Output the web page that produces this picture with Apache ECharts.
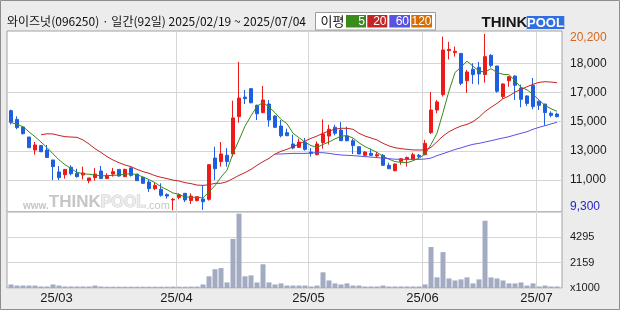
<!DOCTYPE html>
<html><head><meta charset="utf-8">
<script src="https://cdn.jsdelivr.net/npm/echarts@6/dist/echarts.min.js"></script>
<style>html,body{margin:0;padding:0;background:#ececec}#c{width:620px;height:310px}</style>
</head><body><div id="c"></div><script>
const stockName = '와이즈넛';
const stockCode = '096250';
const periodLabel = '일간';
const maLegendTitle = '이평';
const maPeriods = ['5', '20', '60', '120'];

const dates = [
 '2025/02/19','2025/02/20','2025/02/21','2025/02/24','2025/02/25','2025/02/26','2025/02/27','2025/02/28',
 '2025/03/04','2025/03/05','2025/03/06','2025/03/07','2025/03/10','2025/03/11','2025/03/12','2025/03/13','2025/03/14',
 '2025/03/17','2025/03/18','2025/03/19','2025/03/20','2025/03/21','2025/03/24','2025/03/25','2025/03/26','2025/03/27','2025/03/28','2025/03/31',
 '2025/04/01','2025/04/02','2025/04/03','2025/04/04','2025/04/07','2025/04/08','2025/04/09','2025/04/10','2025/04/11',
 '2025/04/14','2025/04/15','2025/04/16','2025/04/17','2025/04/18','2025/04/21','2025/04/22','2025/04/23','2025/04/24','2025/04/25',
 '2025/04/28','2025/04/29','2025/04/30',
 '2025/05/02','2025/05/07','2025/05/08','2025/05/09','2025/05/12','2025/05/13','2025/05/14','2025/05/15','2025/05/16',
 '2025/05/19','2025/05/20','2025/05/21','2025/05/22','2025/05/23','2025/05/26','2025/05/27','2025/05/28','2025/05/29','2025/05/30',
 '2025/06/02','2025/06/04','2025/06/05','2025/06/09','2025/06/10','2025/06/11','2025/06/12','2025/06/13',
 '2025/06/16','2025/06/17','2025/06/18','2025/06/19','2025/06/20','2025/06/23','2025/06/24','2025/06/25','2025/06/26','2025/06/27','2025/06/30',
 '2025/07/01','2025/07/02','2025/07/03','2025/07/04'
];

const opens = [
 15460,14920,14450,13830,13030,13300,13030,12410,11670,11500,
 11960,11590,11480,11130,11320,11730,11260,11540,11830,11380,
 11920,11540,11340,11050,10640,10600,10270,9940,10100,10350,
 9900,9900,10000,9980,12530,12310,12700,12780,15090,16300,
 16820,15790,15340,15870,15130,14510,14100,13400,13190,13520,
 12900,12740,13480,13890,14430,14260,13890,13600,13230,12700,
 12820,12660,12700,12080,11750,12330,12450,12450,12700,12740,
 14100,15500,16450,19170,19050,19000,17310,18020,18140,17690,
 18880,18220,16330,17310,17600,16860,16370,17030,16040,15870,
 15300,15250];
const closes = [
 14740,14410,14040,13170,13340,12920,12570,12000,11320,11830,
 11560,11380,11610,11300,11540,11260,11460,11690,11420,11830,
 11460,11130,10970,10640,10840,10230,10180,9980,10250,9940,
 10180,10140,9830,12120,11870,12780,12310,15010,16240,16200,
 15950,15270,16120,14880,14430,13910,13910,13150,13520,13070,
 12820,13400,14020,14310,14060,13600,13600,13300,12780,12900,
 12700,12740,12080,11870,12160,12490,12570,12740,12620,13440,
 15500,16000,19210,19250,19130,17150,17850,17690,17730,18800,
 18260,16660,17110,17560,17030,16160,15910,15710,15790,15340,
 15170,15090];
const lows = [
 14610,14310,13980,13170,12740,12920,12530,11170,11170,11260,
 11460,11320,11210,10970,11130,11260,11260,11380,11380,11380,
 11380,11130,10930,10430,10550,10140,10020,9300,9980,9810,
 9690,9850,9320,9900,11170,12000,12000,12620,14720,15870,
 15910,14880,15300,14470,14390,13810,13890,13070,13150,12990,
 12620,12700,13110,13360,13930,13600,13560,12780,12780,12700,
 12660,12570,12040,11870,11710,12120,12000,12410,12490,12700,
 14020,15300,16330,18630,18800,17030,16570,17110,17070,17190,
 18140,16570,16200,16940,16120,15670,15750,15540,15500,14550,
 15050,15050];
const highs = [
 15520,15110,14510,13830,13520,13340,13340,12410,12040,11830,
 12080,11870,12000,11300,11920,12040,11590,11920,11830,11870,
 11960,11540,11340,11170,11010,10970,10350,10060,10350,10350,
 10350,10140,10840,12160,13230,13520,13150,16080,18470,16740,
 16860,15830,16990,16120,15170,14880,14350,13980,13730,13770,
 13150,13560,14920,14590,14590,14760,14470,13730,13230,12950,
 13110,12900,12780,12240,12200,12530,12620,12860,12780,13650,
 16610,16120,20040,19710,19420,19000,17970,18390,18470,20200,
 18960,18220,17150,17560,17640,17070,16410,17480,16080,15870,
 15420,15340];

const ma5 = [
 14720,14620,14470,14150,13850,13520,13180,12790,12420,12120,
 11880,11650,11560,11530,11480,11430,11440,11460,11480,11530,
 11570,11500,11360,11200,11010,10760,10570,10370,10290,10120,
 10110,10100,10070,10440,10830,11350,11780,12820,13640,14500,
 15140,15740,15960,15690,15330,14920,14650,14060,13790,13510,
 13300,13190,13370,13520,13720,13880,13920,13770,13470,13240,
 13060,12880,12640,12460,12310,12270,12240,12370,12520,12770,
 13370,14060,15350,16680,17820,18150,18520,18210,17910,17840,
 18060,17820,17710,17680,17320,16900,16750,16470,16120,15780,
 15580,15420];
const ma20 = [
 null,null,null,null,null,13970,14030,14020,13930,13850,
 13830,13810,13650,13400,13110,12880,12620,12410,12240,12100,
 12000,11830,11690,11590,11440,11340,11260,11170,11110,11010,
 10950,10860,10840,10880,10970,10970,11070,11260,11460,11630,
 11830,12080,12310,12510,12780,12950,13070,13230,13400,13580,
 13750,13890,14060,14200,14310,14370,14370,14310,14060,13890,
 13770,13650,13440,13280,13170,13110,13070,13030,13030,13030,
 13190,13540,13890,14160,14350,14510,14610,14780,15050,15400,
 15670,15910,16200,16370,16610,16780,16940,17090,17210,17250,
 17230,17190];
const ma60 = [
 null,null,null,null,null,null,null,null,null,null,
 null,null,null,null,null,null,null,null,null,null,
 null,null,null,null,null,null,null,null,null,null,
 null,null,null,null,null,null,null,null,null,null,
 null,null,null,null,12780,12780,12800,12820,12820,12820,
 12840,12860,12860,12820,12760,12720,12700,12680,12650,12620,
 12590,12560,12520,12490,12460,12450,12450,12450,12450,12470,
 12530,12680,12800,12930,13060,13160,13280,13380,13440,13520,
 13600,13690,13770,13850,13960,14060,14160,14310,14430,14530,
 14640,14740];

const volumes = [
 300,210,210,210,210,130,130,300,210,130,
 130,130,130,130,210,130,110,110,110,110,
 110,110,110,110,110,110,110,120,110,110,
 120,120,300,990,1590,1690,470,4160,6300,990,
 1070,470,2010,470,300,390,210,210,210,210,
 130,210,1330,640,390,300,390,210,210,130,
 130,130,210,130,130,130,130,130,130,300,
 3470,900,3040,810,640,730,900,390,730,5700,
 900,810,640,390,390,470,210,390,130,210,
 130,130];

const priceTickLabels = ['11,000', '13,000', '15,000', '17,000', '18,000'];
const priceMaxLabel = '20,200';
const priceMinLabel = '9,300';
const volTickLabels = ['x1000', '2159', '4295', ''];

const FONT = '"Liberation Sans", Arial, sans-serif';
const KFONT = '"Noto Sans CJK KR", sans-serif';
const GRID_COLOR = '#d6d6d6';

function isMonthStart(i) {
  return i > 0 && dates[i].slice(5, 7) !== dates[i - 1].slice(5, 7);
}
function monthLabel(v) { return v.slice(2, 4) + '/' + v.slice(5, 7); }

const titleText = stockName + '(' + stockCode + ') · ' + periodLabel + '(' + dates.length + '일) ' +
  dates[0] + ' ~ ' + dates[dates.length - 1];

const chart = echarts.init(document.getElementById('c'), null, { renderer: 'canvas' });

const catAxisBase = {
  type: 'category', data: dates, boundaryGap: true, z: 1,
  axisLine: { show: false }, axisTick: { show: false },
  splitLine: { show: true, interval: (i) => isMonthStart(i), showMinLine: false, showMaxLine: false,
    lineStyle: { color: GRID_COLOR, width: 1 } }
};

const maColors = ['#3a8a1c', '#c42424', '#5a52e0', '#d86c00'];

const option = {
  animation: false,
  backgroundColor: '#ececec',
  grid: [
    { left: 8, top: 31, width: 552, height: 181, z: 0 },
    { left: 8, top: 212, width: 552, height: 76, z: 0 },
    { left: 7, top: 63.3, width: 555, height: 116.7, z: 0 },
    { left: 7, top: 38, width: 555, height: 168.7, z: 0 },
    { left: 7, top: 212, width: 555, height: 76, z: 0 },
    { left: 7, top: 31, width: 555, height: 181, show: true, backgroundColor: '#ffffff', borderColor: '#a2a2a2', borderWidth: 1, z: 0 },
    { left: 7, top: 212, width: 555, height: 76, show: true, backgroundColor: '#ffffff', borderColor: '#a2a2a2', borderWidth: 1, z: 0 }
  ],
  xAxis: [
    Object.assign({}, catAxisBase, { gridIndex: 0, axisLabel: { show: false } }),
    Object.assign({}, catAxisBase, { gridIndex: 1, axisLabel: {
      show: true, interval: (i) => isMonthStart(i), formatter: monthLabel,
      margin: 4, fontSize: 13, fontFamily: FONT, color: '#1a1a1a', padding: [0, 5, 0, 0] } }),
    { type: 'value', gridIndex: 2, show: false },
    { type: 'value', gridIndex: 3, show: false },
    { type: 'value', gridIndex: 4, show: false }
  ],
  yAxis: [
    { type: 'value', gridIndex: 0, min: 9195, max: 20385, show: false },
    { type: 'value', gridIndex: 1, min: 0, max: 6440, show: false },
    { type: 'value', gridIndex: 2, min: 0, max: 4, interval: 1, position: 'right', z: 1,
      axisLine: { show: false }, axisTick: { show: false },
      axisLabel: { formatter: (v) => priceTickLabels[v], align: 'left', margin: 8, fontSize: 12, fontFamily: FONT, color: '#1a1a1a' },
      splitLine: { show: true, lineStyle: { color: GRID_COLOR, width: 1 } } },
    { type: 'value', gridIndex: 3, min: 0, max: 1, interval: 1, position: 'right', z: 1,
      axisLine: { show: false }, axisTick: { show: false }, splitLine: { show: false },
      axisLabel: { align: 'left', margin: 8, fontSize: 12, fontFamily: FONT,
        formatter: (v) => v === 1 ? '{mx|' + priceMaxLabel + '}' : '{mn|' + priceMinLabel + '}',
        rich: { mx: { color: '#d2691e', fontSize: 12, fontFamily: FONT }, mn: { color: '#2626c8', fontSize: 12, fontFamily: FONT } } } },
    { type: 'value', gridIndex: 4, min: 0, max: 3, interval: 1, position: 'right', z: 1,
      axisLine: { show: false }, axisTick: { show: false },
      axisLabel: { formatter: (v) => volTickLabels[v], align: 'left', margin: 8, fontSize: 11, fontFamily: FONT, color: '#1a1a1a' },
      splitLine: { show: true, lineStyle: { color: GRID_COLOR, width: 1 } } }
  ],
  graphic: [
    { type: 'rect', z: 10, silent: true, shape: { x: 0.5, y: 0.5, width: 619, height: 309 }, style: { fill: 'none', stroke: '#8e8e8e', lineWidth: 1 } },
    { type: 'text', z: 10, x: 7, y: 21.5, style: { text: titleText, font: '12px ' + KFONT, fill: '#111', verticalAlign: 'middle' } },
    { type: 'rect', z: 10, shape: { x: 315.5, y: 12.5, width: 120, height: 17.5 }, style: { fill: '#fff', stroke: '#9c9c9c', lineWidth: 1 } },
    { type: 'text', z: 11, x: 320.5, y: 21.5, style: { text: maLegendTitle, font: '13px ' + KFONT, fill: '#111', verticalAlign: 'middle' } },
    { type: 'rect', z: 11, shape: { x: 346, y: 15, width: 20, height: 12.5 }, style: { fill: maColors[0] } },
    { type: 'rect', z: 11, shape: { x: 367.3, y: 15, width: 20, height: 12.5 }, style: { fill: maColors[1] } },
    { type: 'rect', z: 11, shape: { x: 389.3, y: 15, width: 20.7, height: 12.5 }, style: { fill: maColors[2] } },
    { type: 'rect', z: 11, shape: { x: 411.3, y: 15, width: 20.7, height: 12.5 }, style: { fill: maColors[3] } },
    { type: 'text', z: 12, x: 365, y: 21.5, style: { text: maPeriods[0], font: '12px ' + FONT, fill: '#fff', align: 'right', verticalAlign: 'middle' } },
    { type: 'text', z: 12, x: 386.5, y: 21.5, style: { text: maPeriods[1], font: '12px ' + FONT, fill: '#fff', align: 'right', verticalAlign: 'middle' } },
    { type: 'text', z: 12, x: 409, y: 21.5, style: { text: maPeriods[2], font: '12px ' + FONT, fill: '#fff', align: 'right', verticalAlign: 'middle' } },
    { type: 'text', z: 12, x: 431.5, y: 21.5, style: { text: maPeriods[3], font: '12px ' + FONT, fill: '#fff', align: 'right', verticalAlign: 'middle' } },
    { type: 'text', z: 10, x: 481.5, y: 23, style: { text: 'THINK', font: 'bold 15px ' + FONT, fill: '#151515', verticalAlign: 'middle' } },
    { type: 'rect', z: 10, shape: { x: 526.7, y: 16, width: 37.6, height: 13 }, style: { fill: '#2f6fe0' } },
    { type: 'text', z: 11, x: 545.5, y: 23, style: { text: 'POOL', font: 'bold 13px ' + FONT, fill: '#ffffff', align: 'center', verticalAlign: 'middle' } },
    { type: 'text', z: 1, x: 23, y: 211, silent: true, style: {
        text: '{w|www.}{t|THINK}{p|POOL}{c|.com}', verticalAlign: 'bottom',
        rich: {
          w: { font: 'bold 10px ' + FONT, fill: '#c6c6c6', verticalAlign: 'bottom' },
          t: { font: 'bold 17px ' + FONT, fill: '#c6c6c6', verticalAlign: 'bottom' },
          p: { font: 'bold 16px ' + FONT, fill: '#ececec', stroke: '#cccccc', lineWidth: 1, verticalAlign: 'bottom' },
          c: { font: '11px ' + FONT, fill: '#c6c6c6', verticalAlign: 'bottom' }
        } } }
  ],
  series: [
    { type: 'candlestick', xAxisIndex: 0, yAxisIndex: 0, barWidth: 4, z: 2,
      data: opens.map((o, i) => [o, closes[i], lows[i], highs[i]]),
      itemStyle: { color: '#ee1a1a', color0: '#1f5fdf', borderColor: '#ee1a1a', borderColor0: '#1f5fdf', borderWidth: 1 } },
    { type: 'line', name: maPeriods[0], xAxisIndex: 0, yAxisIndex: 0, data: ma5, showSymbol: false, z: 3,
      lineStyle: { color: maColors[0], width: 1 } },
    { type: 'line', name: maPeriods[1], xAxisIndex: 0, yAxisIndex: 0, data: ma20, showSymbol: false, z: 3,
      lineStyle: { color: maColors[1], width: 1 } },
    { type: 'line', name: maPeriods[2], xAxisIndex: 0, yAxisIndex: 0, data: ma60, showSymbol: false, z: 3,
      lineStyle: { color: maColors[2], width: 1 } },
    { type: 'bar', xAxisIndex: 1, yAxisIndex: 1, data: volumes, barWidth: 5, z: 2,
      itemStyle: { color: '#a3abc3' } }
  ]
};
chart.setOption(option);
</script></body></html>
